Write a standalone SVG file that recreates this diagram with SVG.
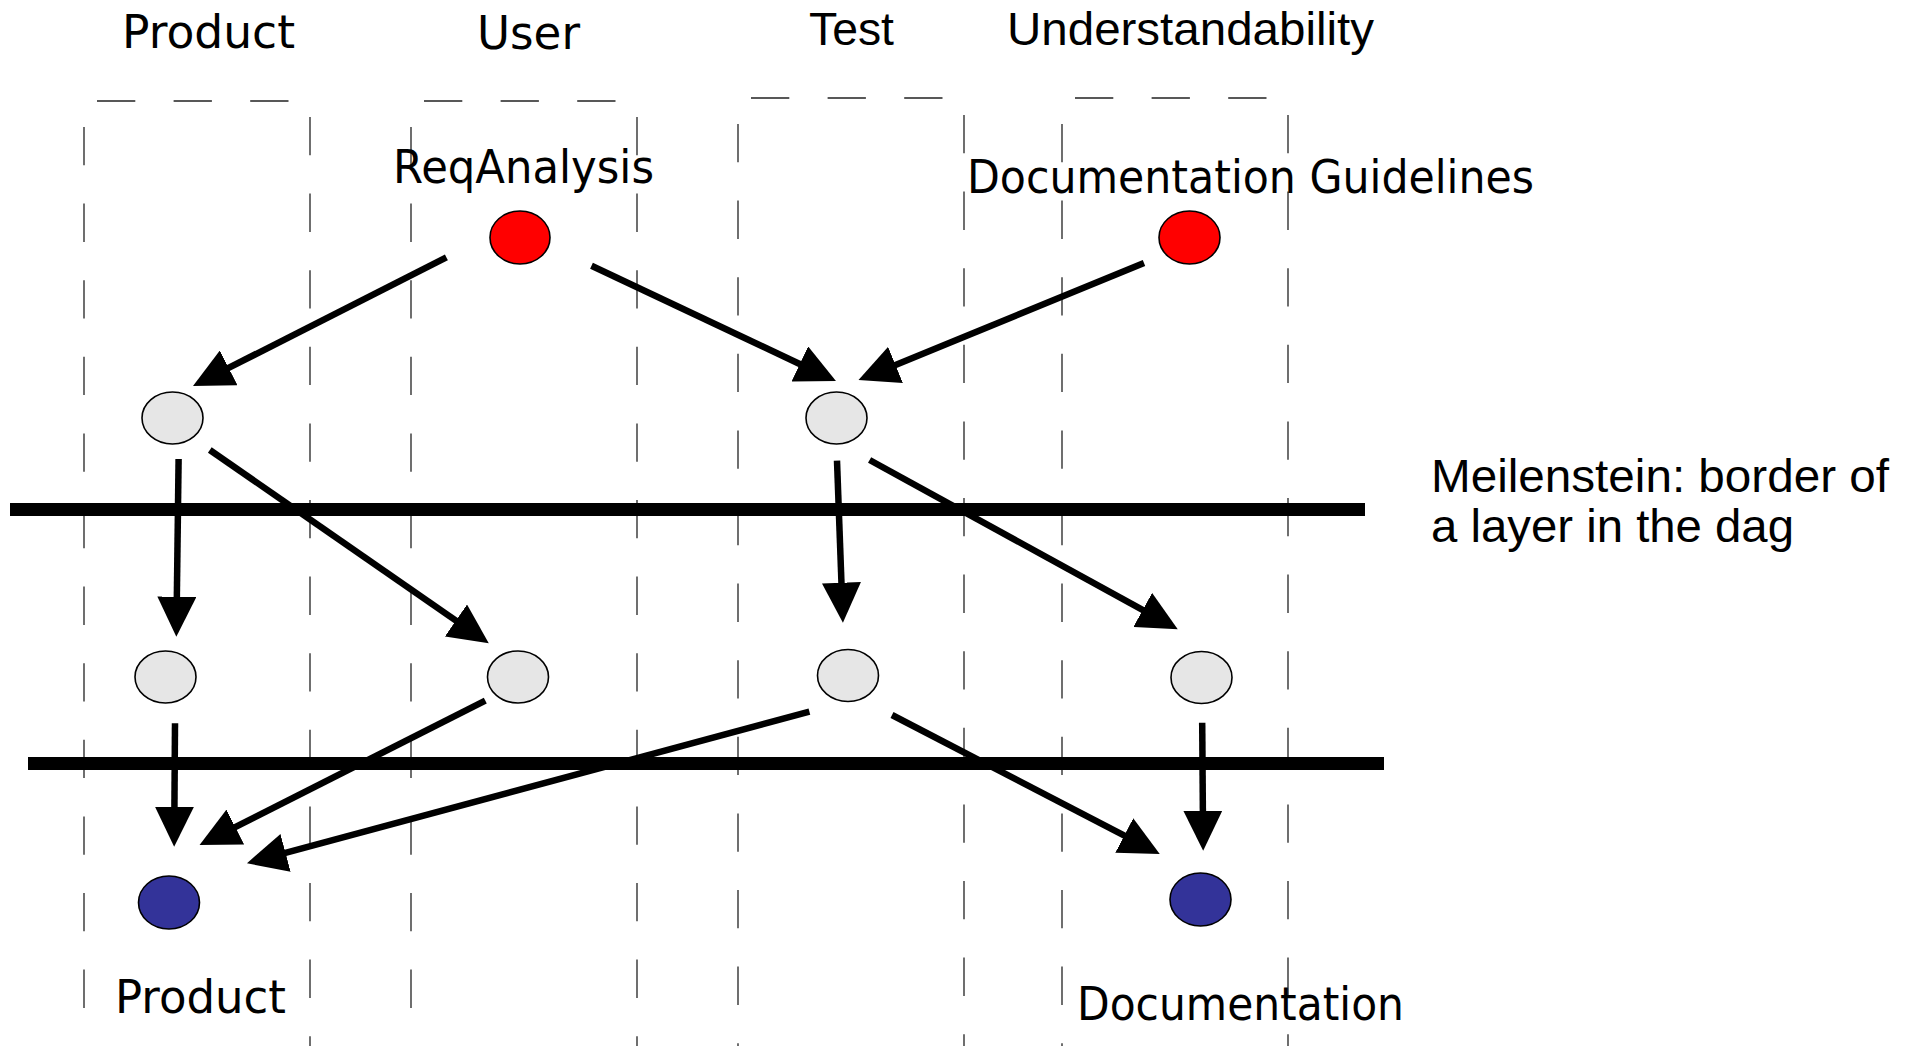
<svg xmlns="http://www.w3.org/2000/svg" width="1914" height="1046" viewBox="0 0 1914 1046">
<defs>
<style>
.lane{stroke:#222;stroke-width:1.3;stroke-dasharray:38.3 38.3;fill:none}
.ms{stroke:#000;stroke-width:13;fill:none}
.arr{stroke:#000;stroke-width:6.5;fill:none;marker-end:url(#head)}
.node{stroke:#000;stroke-width:1.6}
.red{fill:#FF0000}
.gray{fill:#E6E6E6}
.blue{fill:#333399}
.comic{font-family:"Comic Sans MS","DejaVu Sans",sans-serif;font-size:47px;fill:#000}
.arial{font-family:"Liberation Sans",Arial,sans-serif;font-size:47px;fill:#000}
</style>
<marker id="head" markerUnits="userSpaceOnUse" markerWidth="40" markerHeight="39" refX="4" refY="19.5" orient="auto">
<path d="M0,0 L40,19.5 L0,39 z" fill="#000"/>
</marker>
</defs>
<rect width="1914" height="1046" fill="#fff"/>
<g id="lanes">
<path class="lane" d="M97,101H300 M84,127V1046 M310,117V1046"/>
<path class="lane" d="M424,101H627 M411,127V1046 M637,117V1046"/>
<path class="lane" d="M751,98H954 M738,124V1046 M964,115V1046"/>
<path class="lane" d="M1075,98H1278 M1062,124V1046 M1288,115V1046"/>
</g>
<g id="lane-labels">
<text class="comic" x="122" y="48" textLength="173" lengthAdjust="spacingAndGlyphs">Product</text>
<text class="comic" x="477" y="49" textLength="103" lengthAdjust="spacingAndGlyphs">User</text>
<text class="arial" x="809" y="45" textLength="85" lengthAdjust="spacingAndGlyphs">Test</text>
<text class="arial" x="1007" y="45" textLength="367" lengthAdjust="spacingAndGlyphs">Understandability</text>
</g>
<g id="milestones">
<line class="ms" x1="10" y1="509.5" x2="1365" y2="509.5"/>
<line class="ms" x1="28" y1="763.5" x2="1384" y2="763.5"/>
</g>
<g id="milestone-label">
<text class="arial" x="1431" y="492" textLength="458" lengthAdjust="spacingAndGlyphs">Meilenstein: border of</text>
<text class="arial" x="1431" y="542" textLength="363" lengthAdjust="spacingAndGlyphs">a layer in the dag</text>
</g>
<g id="connectors">
<line class="arr" x1="446.4" y1="257.3" x2="225.1" y2="369.7"/>
<line class="arr" x1="591.5" y1="265.7" x2="803.4" y2="365.7"/>
<line class="arr" x1="1144" y1="263" x2="891.8" y2="366.4"/>
<line class="arr" x1="178.6" y1="459" x2="176.8" y2="600.7"/>
<line class="arr" x1="209.8" y1="450" x2="459.2" y2="622.8"/>
<line class="arr" x1="837" y1="460.7" x2="841.6" y2="586.7"/>
<line class="arr" x1="869.6" y1="460" x2="1146.2" y2="611.9"/>
<line class="arr" x1="175" y1="723.3" x2="174.4" y2="810.7"/>
<line class="arr" x1="485.3" y1="700.7" x2="231.7" y2="828.8"/>
<line class="arr" x1="809.4" y1="711.7" x2="281.7" y2="853.9"/>
<line class="arr" x1="892" y1="715" x2="1127.8" y2="837.4"/>
<line class="arr" x1="1202.2" y1="722.7" x2="1202.9" y2="814.7"/>
</g>
<g id="reqanalysis">
<ellipse class="node red" cx="520" cy="237.5" rx="30" ry="26.5"/>
<text class="comic" x="393" y="183" textLength="261" lengthAdjust="spacingAndGlyphs">ReqAnalysis</text>
</g>
<g id="docguidelines">
<ellipse class="node red" cx="1189.5" cy="237.5" rx="30.5" ry="26.5"/>
<text class="comic" x="967" y="193" textLength="567" lengthAdjust="spacingAndGlyphs">Documentation Guidelines</text>
</g>
<g id="product-1">
<ellipse class="node gray" cx="172.5" cy="418" rx="30.5" ry="26"/>
</g>
<g id="test-1">
<ellipse class="node gray" cx="836.5" cy="418" rx="30.5" ry="26"/>
</g>
<g id="product-2">
<ellipse class="node gray" cx="165.5" cy="677" rx="30.5" ry="26"/>
</g>
<g id="user-2">
<ellipse class="node gray" cx="518" cy="677" rx="30.5" ry="26"/>
</g>
<g id="test-2">
<ellipse class="node gray" cx="848" cy="675.5" rx="30.5" ry="26"/>
</g>
<g id="understandability-2">
<ellipse class="node gray" cx="1201.5" cy="677.5" rx="30.5" ry="26"/>
</g>
<g id="product">
<ellipse class="node blue" cx="169" cy="902.5" rx="30.5" ry="26.5"/>
<text class="comic" x="115" y="1013" textLength="171" lengthAdjust="spacingAndGlyphs">Product</text>
</g>
<g id="documentation">
<ellipse class="node blue" cx="1200.5" cy="899.5" rx="30.5" ry="26.5"/>
<text class="comic" x="1077" y="1020" textLength="327" lengthAdjust="spacingAndGlyphs">Documentation</text>
</g>
</svg>
